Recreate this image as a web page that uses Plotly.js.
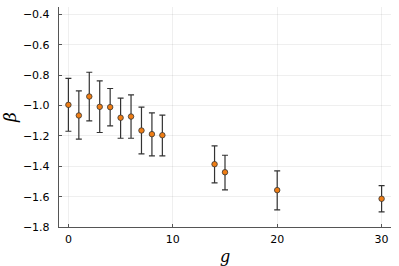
<!DOCTYPE html>
<html>
<head>
<meta charset="utf-8">
<script src="https://cdn.plot.ly/plotly-3.0.1.min.js"></script>
<style>html,body{margin:0;padding:0;background:#fff;}#chart{width:399px;height:266px;}</style>
</head>
<body>
<div id="chart"></div>
<script>
const g = [0, 1, 2, 3, 4, 5, 6, 7, 8, 9, 14, 15, 20, 30];
const beta = [-0.995, -1.065, -0.94, -1.008, -1.01, -1.08, -1.072, -1.164, -1.188, -1.195, -1.386, -1.439, -1.557, -1.614];
const upper = [-0.82, -0.903, -0.78, -0.837, -0.887, -0.951, -0.929, -1.01, -1.048, -1.063, -1.265, -1.327, -1.43, -1.527];
const lower = [-1.169, -1.221, -1.10, -1.177, -1.133, -1.215, -1.215, -1.318, -1.331, -1.331, -1.509, -1.555, -1.687, -1.70];
const xTicks = [0, 10, 20, 30];
const yTicks = [-1.8, -1.6, -1.4, -1.2, -1.0, -0.8, -0.6, -0.4];

const errPlus = upper.map((u, i) => u - beta[i]);
const errMinus = lower.map((l, i) => beta[i] - l);
const minus = s => s.replace('-', '\u2212');

const trace = {
  x: g, y: beta, type: 'scatter', mode: 'markers',
  marker: {color: '#ef7d14', size: 5.5, line: {color: '#333333', width: 0.8}},
  error_y: {type: 'data', symmetric: false, array: errPlus, arrayminus: errMinus,
            color: '#333333', thickness: 1.2, width: 3},
  showlegend: false, hoverinfo: 'none'
};

const layout = {
  width: 399, height: 266,
  margin: {l: 59, r: 8, t: 7, b: 38.5},
  paper_bgcolor: '#fff', plot_bgcolor: '#fff',
  font: {family: 'DejaVu Sans, sans-serif', size: 11, color: '#000'},
  xaxis: {
    range: [-0.9, 30.9], tickvals: xTicks, ticktext: xTicks.map(String),
    showgrid: true, gridcolor: 'rgba(0,0,0,0.08)', gridwidth: 0.8,
    zeroline: false, showline: true, linecolor: '#555', linewidth: 1.2, mirror: false,
    ticks: 'inside', ticklen: 3, tickcolor: '#555', tickfont: {size: 11}, ticklabelstandoff: 2,
    title: {text: 'g', font: {family: 'DejaVu Serif, serif', size: 16, style: 'italic'}, standoff: 5}
  },
  yaxis: {
    range: [-1.8, -0.35], tickvals: yTicks, ticktext: yTicks.map(v => minus(v.toFixed(1))),
    showgrid: true, gridcolor: 'rgba(0,0,0,0.08)', gridwidth: 0.8,
    zeroline: false, showline: true, linecolor: '#555', linewidth: 1.2,
    ticks: 'inside', ticklen: 3, tickcolor: '#555', tickfont: {size: 11}, ticklabelstandoff: 6,
    title: {text: '\u03b2', font: {family: 'DejaVu Serif, serif', size: 17, style: 'italic'}, standoff: 2}
  }
};

Plotly.newPlot('chart', [trace], layout, {staticPlot: true, displayModeBar: false});
</script>
</body>
</html>
